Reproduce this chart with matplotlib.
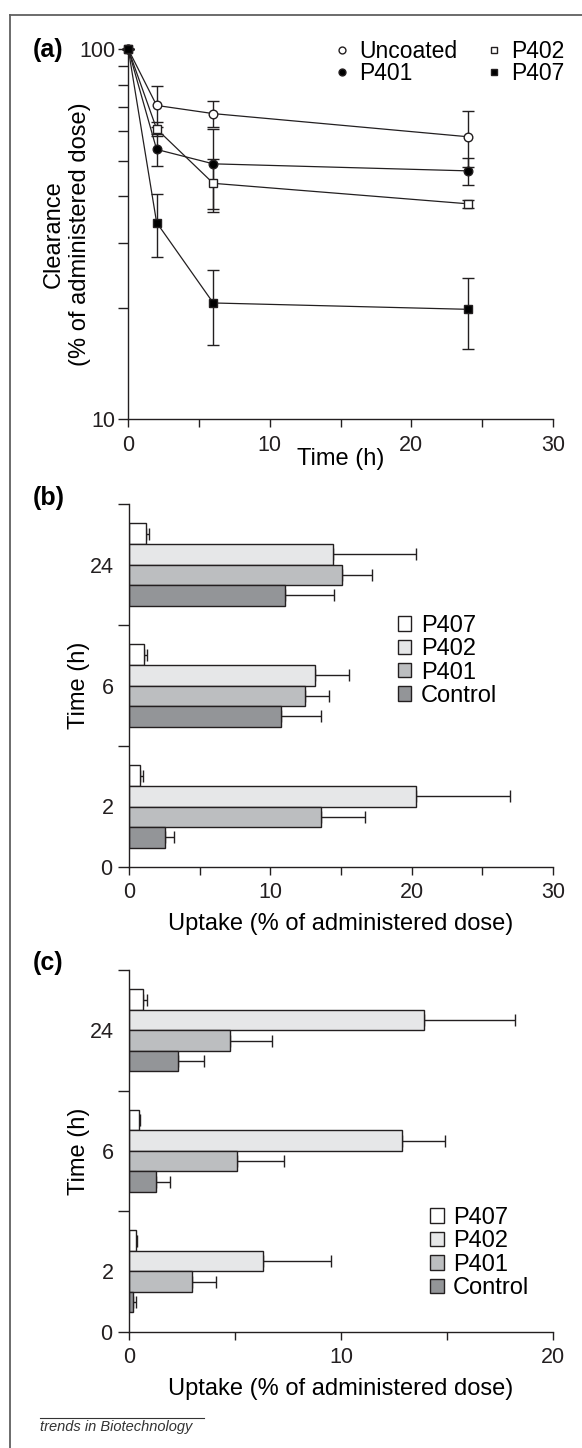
import numpy as np
import matplotlib
matplotlib.use('Agg')
import matplotlib.pyplot as plt
from matplotlib.patches import Patch
from matplotlib.lines import Line2D

plt.rcParams['font.family'] = ['Liberation Sans', 'DejaVu Sans']

# (a) clearance vs time
time_a = [0, 2, 6, 24]
uncoated = [100, 70.5, 67, 58]
uncoated_err = [0, 9, 5.5, 10]
p401_a = [100, 53.6, 49, 46.9]
p401_a_err = [0, 5.3, 12, 4]
p402_a = [100, 60.9, 43.4, 38.2]
p402_a_err = [0, 2.6, 7, 1]
p407_a = [100, 34, 20.6, 19.8]
p407_a_err = [0, 6.5, 4.7, 4.3]

# (b) and (c) uptake, groups in order 2, 6, 24 h
times = ['2', '6', '24']
series = ['P407', 'P402', 'P401', 'Control']
colors = ['#ffffff', '#e6e7e8', '#bcbec0', '#939598']

uptake_b = {
    'P407': [0.8, 1.1, 1.25],
    'P402': [20.3, 13.2, 14.45],
    'P401': [13.6, 12.47, 15.06],
    'Control': [2.56, 10.74, 11.08],
}
uptake_b_err = {
    'P407': [0.2, 0.2, 0.15],
    'P402': [6.65, 2.4, 5.85],
    'P401': [3.1, 1.7, 2.15],
    'Control': [0.64, 2.86, 3.42],
}
uptake_c = {
    'P407': [0.33, 0.47, 0.67],
    'P402': [6.33, 12.88, 13.9],
    'P401': [2.98, 5.12, 4.75],
    'Control': [0.19, 1.3, 2.3],
}
uptake_c_err = {
    'P407': [0.07, 0.08, 0.17],
    'P402': [3.21, 2.02, 4.3],
    'P401': [1.12, 2.18, 1.99],
    'Control': [0.16, 0.63, 1.24],
}

W, H = 582, 1448
ink = '#231f20'
tick_fs = 15.5
label_fs = 17


def px_axes(left, top, right, bottom):
    return [left / W, 1 - bottom / H, (right - left) / W, (bottom - top) / H]


def style_axes(ax):
    for s in ['top', 'right']:
        ax.spines[s].set_visible(False)
    for s in ['left', 'bottom']:
        ax.spines[s].set_color(ink)
        ax.spines[s].set_linewidth(1.0)
    ax.tick_params(which='both', colors=ink, width=1.0, labelsize=tick_fs)


fig = plt.figure(figsize=(W / 100, H / 100), dpi=100)

# ---- panel (a)
ax = fig.add_axes(px_axes(128.3, 49.3, 553, 419))
style_axes(ax)
ax.set_yscale('log')
ax.set_xlim(0, 30)
ax.set_ylim(10, 100)
ax.set_xticks([0, 10, 20, 30])
ax.set_xticks([5, 15, 25], minor=True)
ax.set_yticks([10, 100])
ax.set_yticklabels(['10', '100'])
ax.set_yticks(np.arange(20, 100, 10), minor=True)
ax.yaxis.set_minor_formatter(matplotlib.ticker.NullFormatter())
ax.tick_params(axis='y', which='both', length=7.5, pad=2)
ax.tick_params(axis='x', which='both', length=5.5, pad=6)

styles = [
    (uncoated, uncoated_err, 'o', 'white', 'Uncoated'),
    (p401_a, p401_a_err, 'o', 'black', 'P401'),
    (p402_a, p402_a_err, 's', 'white', 'P402'),
    (p407_a, p407_a_err, 's', 'black', 'P407'),
]
handles = []
for vals, err, mk, fc, lab in styles:
    ax.errorbar(time_a, vals, yerr=err, fmt='none', ecolor=ink, elinewidth=1.0,
                capsize=4, capthick=1.0, clip_on=False, zorder=2)
    ms = 6.2 if mk == 'o' else 5.6
    ax.plot(time_a, vals, marker=mk, ms=ms, mfc=fc, mec=ink, mew=1.0,
            color=ink, lw=0.9, clip_on=False, zorder=3)
    handles.append(Line2D([], [], linestyle='none', marker=mk, ms=ms * 0.8,
                          mfc=fc, mec=ink, mew=1.0, label=lab))

ax.legend(handles=handles, ncol=2, loc='upper left', bbox_to_anchor=(0.486, 1.025),
          frameon=False, fontsize=16.5, handlelength=0.6, handletextpad=0.45,
          columnspacing=1.3, labelspacing=-0.05, borderpad=0, borderaxespad=0)
ax.set_xlabel('Time (h)', fontsize=label_fs, labelpad=-6)
ax.set_ylabel('Clearance\n(% of administered dose)', fontsize=label_fs, linespacing=1.25)
ax.yaxis.set_label_coords(-0.144, 0.5)
ax.yaxis.label.set_verticalalignment('center')


# ---- bar panels
def bar_panel(rect, data, errs, xmax, leg_anchor, ylab_x):
    ax = fig.add_axes(rect)
    style_axes(ax)
    centers = np.arange(len(times)) + 0.5
    h = 0.17
    offsets = [1.5 * h, 0.5 * h, -0.5 * h, -1.5 * h]
    for name, col, off in zip(series, colors, offsets):
        ax.barh(centers + off, data[name], height=h, color=col, edgecolor=ink,
                linewidth=1.0, zorder=2)
        ax.errorbar(data[name], centers + off,
                    xerr=[np.zeros(len(times)), errs[name]], fmt='none',
                    ecolor=ink, elinewidth=1.0, capsize=4, capthick=1.0, zorder=1)
    ax.set_xlim(0, xmax)
    ax.set_ylim(0, len(times))
    ax.set_xticks(np.arange(0, xmax + 1, 10))
    ax.set_xticks(np.arange(5, xmax, 10), minor=True)
    ax.set_yticks(np.arange(len(times) + 1))
    ax.set_yticklabels(['0'] + [''] * len(times))
    ax.set_yticks(centers, minor=True)
    ax.set_yticklabels(times, minor=True)
    ax.tick_params(axis='y', which='major', length=8, pad=4)
    ax.tick_params(axis='y', which='minor', length=0, pad=11)
    ax.tick_params(axis='x', which='both', length=6, pad=5)
    ax.set_xlabel('Uptake (% of administered dose)', fontsize=label_fs, labelpad=7)
    ax.set_ylabel('Time (h)', fontsize=label_fs)
    ax.yaxis.set_label_coords(ylab_x, 0.5)
    ax.yaxis.label.set_verticalalignment('center')
    leg_handles = [Patch(facecolor=c, edgecolor=ink, linewidth=1.0, label=n)
                   for n, c in zip(series, colors)]
    ax.legend(handles=leg_handles, loc='upper left', bbox_to_anchor=leg_anchor,
              frameon=False, fontsize=label_fs, handlelength=0.56, handleheight=0.56,
              handletextpad=0.4, labelspacing=0.06, borderpad=0, borderaxespad=0)
    return ax


bar_panel(px_axes(128.8, 504, 553, 867), uptake_b, uptake_b_err, 30,
          (0.635, 0.695), -0.118)
bar_panel(px_axes(128.8, 970, 553, 1331.7), uptake_c, uptake_c_err, 20,
          (0.711, 0.345), -0.118)

# panel letters
for lab, y in [('(a)', 50), ('(b)', 498.3), ('(c)', 963.3)]:
    fig.text(33 / W, 1 - y / H, lab, fontsize=18, fontweight='bold', va='center', ha='left')

# frame and footer
frame = '#606060'
fig.add_artist(Line2D([10 / W, 1], [1 - 15 / H, 1 - 15 / H], color=frame, lw=1.3))
fig.add_artist(Line2D([10 / W, 10 / W], [0, 1 - 15 / H], color=frame, lw=1.3))
fig.text(40 / W, 1 - 1427 / H, 'trends in Biotechnology', fontsize=10.5,
         style='italic', va='center', ha='left', color='#333333')
fig.add_artist(Line2D([40 / W, 204 / W], [1 - 1417.5 / H, 1 - 1417.5 / H],
                      color='#333333', lw=0.8))

fig.savefig('out.png', dpi=100)
